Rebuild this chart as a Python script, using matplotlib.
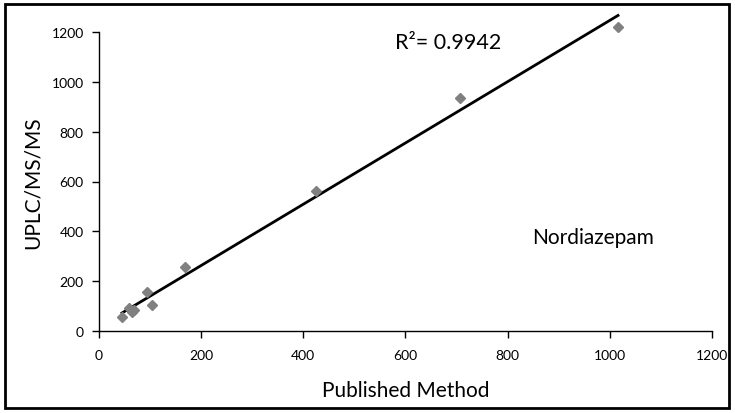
import numpy as np
import matplotlib
matplotlib.use("Agg")
import matplotlib.pyplot as plt
from matplotlib.patches import Rectangle

published = [45, 59, 64, 69, 93, 104, 168, 425, 707, 1016]
uplc = [57, 91, 78, 86, 158, 104, 258, 562, 935, 1222]
x_ticks = [0, 200, 400, 600, 800, 1000, 1200]
y_ticks = [0, 200, 400, 600, 800, 1000, 1200]

plt.rcParams['font.family'] = ['Lato', 'DejaVu Sans']

fig = plt.figure(figsize=(7.35, 4.14), dpi=100)
ax = fig.add_axes([99/735, 1-332/414, (712-99)/735, (332-33)/414])

x = np.array(published, dtype=float)
y = np.array(uplc, dtype=float)
m, b = np.polyfit(x, y, 1)
xl = np.array([x.min(), x.max()])
ax.plot(xl, m*xl + b, color='black', lw=2, clip_on=False)
ax.plot(x, y, linestyle='none', marker='D', markersize=5, color='#808080', zorder=3, clip_on=False)

ax.text(0.483, 0.968, 'R\u00b2= 0.9942', transform=ax.transAxes, fontsize=15.5, ha='left', va='center')
ax.text(0.707, 0.313, 'Nordiazepam', transform=ax.transAxes, fontsize=15, ha='left', va='center')

ax.set_xlim(0, 1200)
ax.set_ylim(0, 1200)
ax.set_xticks(x_ticks)
ax.set_yticks(y_ticks)
ax.tick_params(labelsize=10, length=5, width=1, direction='out')
ax.tick_params(axis='y', pad=6)
ax.tick_params(axis='x', pad=8)
for s in ['top', 'right']:
    ax.spines[s].set_visible(False)
for s in ['left', 'bottom']:
    ax.spines[s].set_linewidth(1)
ax.set_xlabel('Published Method', fontsize=15)
ax.set_ylabel('UPLC/MS/MS', fontsize=15)
ax.xaxis.set_label_coords(0.5, -0.165)
ax.yaxis.set_label_coords(-0.092, 0.5)

fig.patches.append(Rectangle((5/735, 5/414), 724/735, 404/414, transform=fig.transFigure,
                             fill=False, edgecolor='black', lw=2))
fig.savefig('out.png', dpi=100)
